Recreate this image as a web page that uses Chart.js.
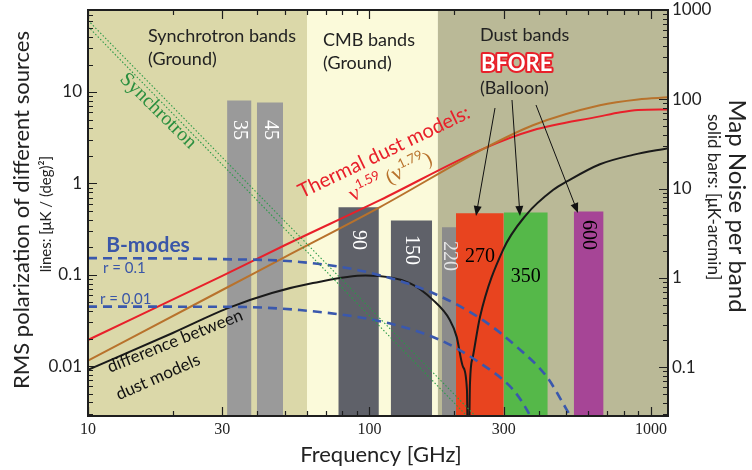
<!DOCTYPE html>
<html>
<head>
<meta charset="utf-8">
<script src="https://cdn.jsdelivr.net/npm/chart.js@4.4.1/dist/chart.umd.min.js"></script>
<style>
  html, body { margin: 0; padding: 0; background: #fff; }
  canvas { display: block; }
</style>
</head>
<body>
<canvas id="chart" width="752" height="470"></canvas>
<script>
// background regions (frequency edges in GHz)
const regionEdges = [10, 60, 175, 1150]
const regionColors = ['#dbd8a9', '#fbfada', '#bab997']

// instrument bands, map noise per band [uK-arcmin]
const bandNames = ['35', '45', '90', '150', '220', '270', '350', '600']
const bandLow = [31.2, 39.8, 77.5, 119, 181, 203, 300, 532]
const bandHigh = [38.1, 49.3, 108, 167, 203, 300, 430, 679]
const bandNoise = [97, 92, 6.2, 4.4, 3.7, 5.3, 5.4, 5.55]
const bandColors = ['#9a9a9a', '#9a9a9a', '#5f6169', '#5f6169', '#8b8b8b', '#e8441f', '#55b849', '#a64596']

// synchrotron (two dotted lines)
const synchAFreq = [10, 239]
const synchAVal = [61, 0.0028]
const synchBFreq = [10, 223]
const synchBVal = [52, 0.0028]

// thermal dust nu^1.59 (red) and nu^1.79 (brown)
const dust159Freq = [10, 30, 50, 109, 257, 381, 659, 780, 900, 1150]
const dust159Val = [0.0193, 0.097, 0.21, 0.655, 2.43, 3.81, 5.41, 6.0, 6.35, 6.45]
const dust179Freq = [10, 30, 50, 109, 257, 381, 659, 900, 1150]
const dust179Val = [0.0115, 0.068, 0.156, 0.55, 2.43, 4.33, 7.16, 8.3, 8.75]

// difference between dust models
const diffFreq = [10, 20, 31.4, 45, 63, 97, 139, 168, 193, 204, 215, 222, 224.5, 227.6, 233, 247, 298, 360, 450, 503, 659, 863, 1150]
const diffVal = [0.0091, 0.023, 0.043, 0.063, 0.081, 0.098, 0.081, 0.053, 0.032, 0.021, 0.0098, 0.0055, 0.0004, 0.0065, 0.0126, 0.0345, 0.186, 0.45, 0.85, 1.05, 1.62, 2.05, 2.43]

// B-modes
const r01Freq = [10, 30, 56.6, 98, 168, 253, 334, 427, 503, 530]
const r01Val = [0.152, 0.148, 0.138, 0.107, 0.063, 0.0318, 0.0162, 0.0076, 0.0033, 0.0025]
const r001Freq = [10, 30, 56.6, 112, 178, 247, 324, 363, 380]
const r001Val = [0.0447, 0.0446, 0.041, 0.0304, 0.0193, 0.0108, 0.0055, 0.0033, 0.0025]

const xTicks = [10, 30, 100, 300, 1000]
const yTicks = [0.01, 0.1, 1, 10]
const y2Ticks = [0.1, 1, 10, 100, 1000]

const SANS = 'Lato, "Open Sans", sans-serif'
const SERIF = '"Liberation Serif", "DejaVu Serif", serif'

const pts = (fs, vs) => fs.map((f, i) => ({ x: f, y: vs[i] }))

const curve = (fs, vs, color, width, dash) => ({
    data: pts(fs, vs),
    borderColor: color,
    borderWidth: width,
    borderDash: dash || [],
    pointRadius: 0,
    fill: false,
    cubicInterpolationMode: 'monotone',
    yAxisID: 'y',
    order: 1
})

const bandSets = bandNames.map((name, i) => ({
    label: name,
    data: [{ x: bandLow[i], y: bandNoise[i] }, { x: bandHigh[i], y: bandNoise[i] }],
    yAxisID: 'y2',
    fill: 'start',
    backgroundColor: bandColors[i],
    borderColor: 'rgba(0,0,0,0)',
    borderWidth: 0,
    pointRadius: 0,
    tension: 0,
    order: 10
}))

const datasets = [
    ...bandSets,
    curve(synchAFreq, synchAVal, '#2a9a48', 1.1, [1.5, 2]),
    curve(synchBFreq, synchBVal, '#2a9a48', 1.1, [1.5, 2]),
    curve(r01Freq, r01Val, '#3a58ad', 2.6, [9, 6]),
    curve(r001Freq, r001Val, '#3a58ad', 2.6, [9, 6]),
    curve(dust179Freq, dust179Val, '#b8722c', 2),
    curve(dust159Freq, dust159Val, '#e8202a', 2),
    curve(diffFreq, diffVal, '#1a1a1a', 2)
]

// shaded frequency regions behind everything
const regionsPlugin = {
    id: 'regions',
    beforeDatasetsDraw(chart) {
        const { ctx, chartArea: a, scales: { x } } = chart
        ctx.save()
        for (let i = 0; i < regionColors.length; i++) {
            const x0 = x.getPixelForValue(regionEdges[i])
            const x1 = x.getPixelForValue(regionEdges[i + 1])
            ctx.fillStyle = regionColors[i]
            ctx.fillRect(x0, a.top, x1 - x0, a.bottom - a.top)
        }
        ctx.restore()
    }
}

const logMinors = (min, max) => {
    const out = []
    for (let e = -4; e <= 4; e++) {
        for (let k = 1; k <= 9; k++) {
            const v = k * Math.pow(10, e)
            if (v >= min * 0.999 && v <= max * 1.001) out.push({ v, major: k === 1 })
        }
    }
    return out
}

// inward tick marks on all four sides and the frame
const framePlugin = {
    id: 'frame',
    afterDatasetsDraw(chart) {
        const { ctx, chartArea: a, scales: { x, y, y2 } } = chart
        ctx.save()
        ctx.strokeStyle = '#1e1e1e'
        ctx.lineWidth = 1.2
        ctx.beginPath()
        logMinors(x.min, x.max).forEach(t => {
            const px = Math.round(x.getPixelForValue(t.v)) + 0.5
            const len = xTicks.includes(t.v) ? 9 : 5
            ctx.moveTo(px, a.bottom); ctx.lineTo(px, a.bottom - len)
            ctx.moveTo(px, a.top); ctx.lineTo(px, a.top + len)
        })
        logMinors(y.min, y.max).forEach(t => {
            const py = Math.round(y.getPixelForValue(t.v)) + 0.5
            const len = t.major ? 9 : 5
            ctx.moveTo(a.left, py); ctx.lineTo(a.left + len, py)
        })
        logMinors(y2.min, y2.max).forEach(t => {
            const py = Math.round(y2.getPixelForValue(t.v)) + 0.5
            const len = t.major ? 9 : 5
            ctx.moveTo(a.right, py); ctx.lineTo(a.right - len, py)
        })
        ctx.stroke()
        ctx.lineWidth = 2
        ctx.strokeRect(a.left, a.top, a.right - a.left, a.bottom - a.top)
        ctx.restore()
    }
}

const bandLabelY = [130, 130, 240, 250, 256, 257, 277, 235]
const bandLabelRot = [true, true, true, true, true, false, false, true]
const bandLabelColor = ['#fff', '#fff', '#fff', '#fff', '#e4e4e4', '#000', '#000', '#000']

function text(ctx, str, px, py, font, color, angle, align) {
    ctx.save()
    ctx.translate(px, py)
    ctx.rotate((angle || 0) * Math.PI / 180)
    ctx.font = font
    ctx.fillStyle = color
    ctx.textAlign = align || 'center'
    ctx.textBaseline = 'middle'
    ctx.fillText(str, 0, 0)
    ctx.restore()
}

function arrow(ctx, x0, y0, x1, y1) {
    const ang = Math.atan2(y1 - y0, x1 - x0)
    ctx.beginPath()
    ctx.moveTo(x0, y0)
    ctx.lineTo(x1 - 8 * Math.cos(ang), y1 - 8 * Math.sin(ang))
    ctx.stroke()
    ctx.beginPath()
    ctx.moveTo(x1, y1)
    ctx.lineTo(x1 - 10 * Math.cos(ang) + 4 * Math.sin(ang), y1 - 10 * Math.sin(ang) - 4 * Math.cos(ang))
    ctx.lineTo(x1 - 10 * Math.cos(ang) - 4 * Math.sin(ang), y1 - 10 * Math.sin(ang) + 4 * Math.cos(ang))
    ctx.closePath()
    ctx.fill()
}

const labelsPlugin = {
    id: 'labels',
    afterDraw(chart) {
        const { ctx, scales: { x } } = chart

        // band numbers
        bandNames.forEach((name, i) => {
            const cx = x.getPixelForValue(Math.sqrt(bandLow[i] * bandHigh[i]))
            text(ctx, name, cx, bandLabelY[i], '20px ' + SERIF, bandLabelColor[i], bandLabelRot[i] ? 90 : 0)
        })

        // region titles
        text(ctx, 'Synchrotron bands', 148, 36, '18px ' + SANS, '#222', 0, 'left')
        text(ctx, '(Ground)', 148, 59, '18px ' + SANS, '#222', 0, 'left')
        text(ctx, 'CMB bands', 323, 40, '18px ' + SANS, '#222', 0, 'left')
        text(ctx, '(Ground)', 323, 63, '18px ' + SANS, '#222', 0, 'left')
        text(ctx, 'Dust bands', 480, 35, '18px ' + SANS, '#222', 0, 'left')
        text(ctx, '(Balloon)', 480, 88, '18px ' + SANS, '#222', 0, 'left')

        ctx.save()
        ctx.font = 'bold 22px ' + SANS
        ctx.textBaseline = 'middle'
        ctx.lineJoin = 'round'
        ctx.strokeStyle = '#e8202a'
        ctx.lineWidth = 4
        ctx.strokeText('BFORE', 481, 64)
        ctx.fillStyle = '#fff'
        ctx.fillText('BFORE', 481, 64)
        ctx.restore()

        // arrows from "(Balloon)" to the balloon bands
        ctx.save()
        ctx.strokeStyle = '#111'
        ctx.fillStyle = '#111'
        ctx.lineWidth = 1
        arrow(ctx, 495, 108, 476, 216)
        arrow(ctx, 512, 100, 520, 216)
        arrow(ctx, 536, 105, 578, 213)
        ctx.restore()

        // curve annotations
        text(ctx, 'Synchrotron', 158, 111, '20px ' + SERIF, '#2a8f3f', 44.6)
        text(ctx, 'Thermal dust models:', 384, 152, '20px ' + SANS, '#e8202a', -25.6)

        ctx.save()
        ctx.translate(390, 176)
        ctx.rotate(-25.6 * Math.PI / 180)
        ctx.textBaseline = 'alphabetic'
        const parts = [
            ['ν', '22px ' + SERIF, '#e8202a', 0],
            ['1.59', '13px ' + SANS, '#e8202a', -9],
            [' (', '20px ' + SERIF, '#b8722c', 0],
            ['ν', '22px ' + SERIF, '#b8722c', 0],
            ['1.79', '13px ' + SANS, '#b8722c', -9],
            [')', '20px ' + SERIF, '#b8722c', 0]
        ]
        let w = 0
        parts.forEach(p => { ctx.font = p[1]; w += ctx.measureText(p[0]).width })
        let cx = -w / 2
        parts.forEach(p => {
            ctx.font = p[1]
            ctx.fillStyle = p[2]
            ctx.fillText(p[0], cx, 7 + p[3])
            cx += ctx.measureText(p[0]).width
        })
        ctx.restore()

        text(ctx, 'B-modes', 148, 245, 'bold 21px ' + SANS, '#3a56a8', 0)
        text(ctx, 'r = 0.1', 103, 268, '15px ' + SANS, '#3a56a8', 0, 'left')
        text(ctx, 'r = 0.01', 100, 299, '15px ' + SANS, '#3a56a8', 0, 'left')
        text(ctx, 'difference between', 175, 341, '17px ' + SANS, '#111', -21.6)
        text(ctx, 'dust models', 158, 377, '17px ' + SANS, '#111', -24)

        // axis titles
        text(ctx, 'RMS polarization of different sources', 22, 210, '22px ' + SANS, '#222', -90)
        text(ctx, 'lines: [μK / (deg)²]', 46, 214, '15px ' + SANS, '#222', -90)
        text(ctx, 'Map Noise per band', 737, 206, '24px ' + SANS, '#222', 90)
        text(ctx, 'solid bars: [μK-arcmin]', 713, 197, '17px ' + SANS, '#222', 90)
        text(ctx, 'Frequency [GHz]', 381, 455, '22px ' + SANS, '#222', 0)
    }
}

const tickFix = list => s => { s.ticks = list.map(v => ({ value: v })) }
const noPad = s => { s.paddingTop = 0; s.paddingBottom = 0; s.paddingLeft = 0; s.paddingRight = 0 }

new Chart(document.getElementById('chart'), {
    type: 'line',
    data: { datasets },
    options: {
        responsive: false,
        animation: false,
        layout: { padding: { top: 10, left: 0, right: 0, bottom: 0 } },
        plugins: { legend: { display: false }, tooltip: { enabled: false } },
        scales: {
            x: {
                type: 'logarithmic', min: 10, max: 1150,
                afterBuildTicks: tickFix(xTicks),
                afterFit: s => { s.height = 54; noPad(s) },
                grid: { display: false, drawTicks: false }, border: { display: false },
                ticks: { font: { family: SERIF, size: 16 }, color: '#222', padding: 4, maxRotation: 0, autoSkip: false, callback: v => String(v) }
            },
            y: {
                type: 'logarithmic', position: 'left', min: 0.00284, max: 79,
                afterBuildTicks: tickFix(yTicks),
                afterFit: s => { s.width = 88; noPad(s) },
                grid: { display: false, drawTicks: false }, border: { display: false },
                ticks: { font: { family: SANS, size: 17 }, color: '#222', padding: 6, autoSkip: false, callback: v => String(v) }
            },
            y2: {
                type: 'logarithmic', position: 'right', min: 0.0284, max: 1000,
                afterBuildTicks: tickFix(y2Ticks),
                afterFit: s => { s.width = 84; noPad(s) },
                grid: { display: false, drawTicks: false }, border: { display: false },
                ticks: { font: { family: SANS, size: 17 }, color: '#222', padding: 4, autoSkip: false, callback: v => String(v) }
            }
        }
    },
    plugins: [regionsPlugin, framePlugin, labelsPlugin]
})
</script>
</body>
</html>
